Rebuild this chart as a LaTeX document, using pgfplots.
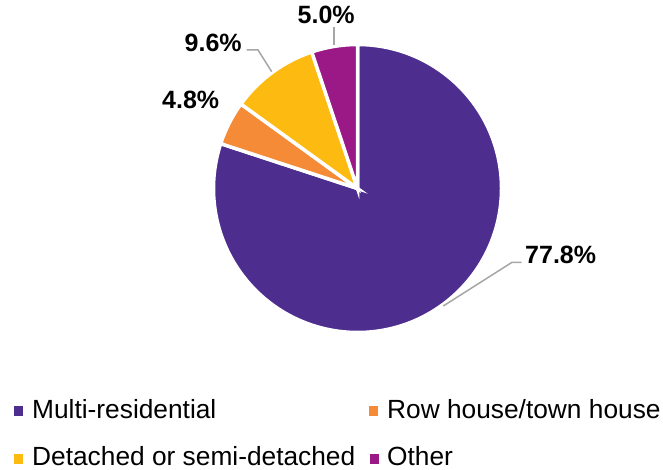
\documentclass[border=0pt]{standalone}
\usepackage{pgfplots}
\pgfplotsset{compat=1.18}
\usepackage{pgfplotstable}
\usepackage{fontspec}
\setmainfont{Liberation Sans}
\definecolor{cMulti}{HTML}{4D2D8E}
\definecolor{cRow}{HTML}{F58B36}
\definecolor{cDet}{HTML}{FDBB12}
\definecolor{cOther}{HTML}{9B1987}
\definecolor{cLead}{HTML}{A6A6A6}
\pgfplotstableread{
label value
Multi 77.8
Row 4.8
Detached 9.6
Other 5.0
}\piedata
\begin{document}
\begin{tikzpicture}
\pgfplotstablegetelem{0}{value}\of\piedata \let\va\pgfplotsretval
\pgfplotstablegetelem{1}{value}\of\piedata \let\vb\pgfplotsretval
\pgfplotstablegetelem{2}{value}\of\piedata \let\vc\pgfplotsretval
\pgfplotstablegetelem{3}{value}\of\piedata \let\vd\pgfplotsretval
\pgfmathsetmacro{\tot}{\va+\vb+\vc+\vd}
\pgfmathsetmacro{\k}{360/\tot}
\pgfmathsetmacro{\aA}{90}
\pgfmathsetmacro{\aB}{90-\k*\va}
\pgfmathsetmacro{\aC}{\aB-\k*\vb}
\pgfmathsetmacro{\aD}{\aC-\k*\vc}
\pgfmathsetmacro{\aE}{\aD-\k*\vd}
\begin{axis}[scale only axis, width=663pt, height=470pt,
  xmin=0, xmax=663, ymin=0, ymax=470, hide axis, clip=false]
\path (axis cs:0,0) rectangle (axis cs:663,470);
\fill[cMulti, draw=white, line width=3.5pt] (axis cs:357.5,281.5) -- ++(\aA:144pt) arc[start angle=\aA, end angle=\aB, radius=144pt] -- cycle;
\fill[cRow, draw=white, line width=3.5pt] (axis cs:357.5,281.5) -- ++(\aB:144pt) arc[start angle=\aB, end angle=\aC, radius=144pt] -- cycle;
\fill[cDet, draw=white, line width=3.5pt] (axis cs:357.5,281.5) -- ++(\aC:144pt) arc[start angle=\aC, end angle=\aD, radius=144pt] -- cycle;
\fill[cOther, draw=white, line width=3.5pt] (axis cs:357.5,281.5) -- ++(\aD:144pt) arc[start angle=\aD, end angle=\aE, radius=144pt] -- cycle;
% leader lines
\draw[cLead, line width=1.5pt] (axis cs:443.3,164) -- (axis cs:511.7,207.5) -- (axis cs:521.7,207.5);
\draw[cLead, line width=1.5pt] (axis cs:246.7,420) -- (axis cs:258,420) -- (axis cs:271.7,398.3);
\draw[cLead, line width=1.5pt] (axis cs:334,443) -- (axis cs:334,425);
% labels
\tikzset{lab/.style={inner sep=0pt, font=\fontsize{25}{29}\selectfont\bfseries}}
\node[lab, anchor=west] at (axis cs:525,215) {\va\%};
\node[lab, anchor=west] at (axis cs:162,370) {\vb\%};
\node[lab, anchor=west] at (axis cs:184.5,427) {\vc\%};
\node[lab, anchor=west] at (axis cs:297.5,455) {\vd\%};
% legend
\tikzset{leg/.style={inner sep=0pt, anchor=base west, font=\fontsize{26.3}{30}\selectfont}}
\fill[cMulti] (axis cs:14,54.3) rectangle (axis cs:23,64);
\node[leg] at (axis cs:32,51.7) {Multi-residential};
\fill[cRow] (axis cs:368.5,54.3) rectangle (axis cs:377.5,64);
\node[leg] at (axis cs:387,51.7) {Row house/town house};
\fill[cDet] (axis cs:14,6.3) rectangle (axis cs:23,16);
\node[leg] at (axis cs:32,4.5) {Detached or semi-detached};
\fill[cOther] (axis cs:370,6.3) rectangle (axis cs:379,16);
\node[leg] at (axis cs:387,4.5) {Other};
\end{axis}
\end{tikzpicture}
\end{document}
